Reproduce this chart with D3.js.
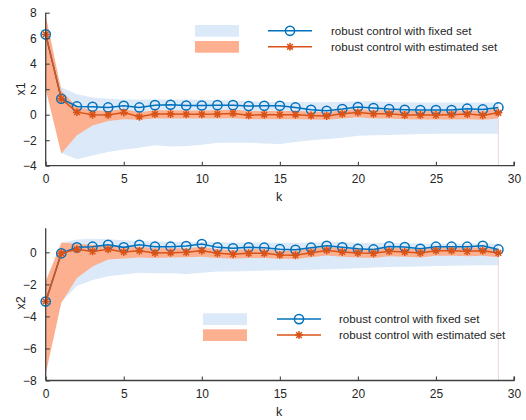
<!DOCTYPE html>
<html>
<head>
<meta charset="utf-8">
<script src="https://cdn.jsdelivr.net/npm/d3@7"></script>
<style>
	body { margin: 0; background: #fff; }
	text { font-family: "Liberation Sans", Arial, Helvetica, sans-serif; fill: #262626; }
</style>
</head>
<body>
<script>

// SVG Size
var width = 526,
	height = 420;

// time steps
var steps = d3.range(0, 30);
var xTicks = [0, 5, 10, 15, 20, 25, 30];
var x1Ticks = [-4, -2, 0, 2, 4, 6, 8];
var x2Ticks = [-8, -6, -4, -2, 0];
var legendLabels = ["robust control with fixed set", "robust control with estimated set"];

// x1 : trajectories
var fixedX1 = [6.3,1.25,0.65,0.62,0.57,0.7,0.57,0.75,0.78,0.72,0.72,0.75,0.75,0.68,0.7,0.7,0.57,0.39,0.31,0.44,0.6,0.52,0.44,0.39,0.36,0.36,0.36,0.47,0.41,0.57];
var estX1 = [6.3,1.25,0.2,0,-0.02,0.18,-0.16,0.05,0.05,0.03,0.03,0.05,0.1,-0.05,0,0,0,-0.07,-0.1,0.07,0.18,0.07,0.07,-0.03,-0.03,-0.03,0,0.05,-0.05,0.15];
// x1 : bands
var fixedX1Hi = [6.3,2.15,1.6,1.35,1.25,1.2,1.2,1.2,1.2,1.2,1.18,1.15,1.1,1.05,1.0,1.0,1.0,0.98,0.98,1.0,1.05,1.05,1.0,0.98,0.95,0.95,0.95,0.95,0.95,0.95];
var fixedX1Lo = [6.3,-3.0,-3.5,-3.2,-2.93,-2.72,-2.6,-2.4,-2.5,-2.45,-2.35,-2.2,-2.2,-2.2,-2.25,-2.3,-2.15,-2.0,-1.9,-1.8,-1.65,-1.62,-1.6,-1.55,-1.52,-1.5,-1.5,-1.5,-1.5,-1.49];
var estX1Hi = [7.8,1.9,0.6,0.35,0.3,0.45,0.2,0.35,0.35,0.33,0.33,0.35,0.4,0.3,0.3,0.3,0.3,0.25,0.22,0.35,0.45,0.35,0.35,0.3,0.3,0.3,0.3,0.35,0.3,0.5];
var estX1Lo = [2.0,-3.05,-1.62,-0.84,-0.5,-0.35,-0.4,-0.3,-0.3,-0.3,-0.3,-0.3,-0.28,-0.35,-0.35,-0.35,-0.35,-0.38,-0.4,-0.3,-0.2,-0.3,-0.3,-0.35,-0.38,-0.38,-0.38,-0.35,-0.4,-0.3];

// x2 : trajectories
var fixedX2 = [-3.07,-0.06,0.31,0.35,0.47,0.31,0.47,0.35,0.35,0.39,0.52,0.31,0.25,0.31,0.29,0.2,0.16,0.29,0.41,0.31,0.22,0.18,0.37,0.33,0.22,0.35,0.35,0.35,0.41,0.18];
var estX2 = [-3.07,-0.06,0.19,0.06,0.19,0.02,0.1,-0.04,-0.02,0,0.1,-0.06,-0.12,-0.06,-0.06,-0.16,-0.18,-0.02,0.12,0.02,-0.04,-0.06,0.06,0.02,-0.04,0.1,0.1,0.06,0.1,-0.04];
// x2 : bands
var fixedX2Hi = [-3.07,0.6,0.8,0.85,0.82,0.75,0.7,0.68,0.66,0.65,0.65,0.64,0.62,0.62,0.62,0.6,0.6,0.62,0.64,0.64,0.6,0.58,0.58,0.56,0.55,0.55,0.55,0.55,0.55,0.55];
var fixedX2Lo = [-3.07,-3.1,-2.1,-1.72,-1.5,-1.38,-1.27,-1.3,-1.3,-1.35,-1.28,-1.2,-1.2,-1.16,-1.14,-1.12,-1.1,-1.08,-1.05,-1.02,-1.0,-0.95,-0.92,-0.9,-0.88,-0.86,-0.84,-0.82,-0.8,-0.8];
var estX2Hi = [-1.8,0.6,0.55,0.45,0.45,0.3,0.35,0.25,0.25,0.25,0.35,0.2,0.15,0.2,0.2,0.1,0.1,0.25,0.35,0.25,0.2,0.2,0.3,0.25,0.2,0.3,0.3,0.3,0.3,0.2];
var estX2Lo = [-7.6,-3.15,-1.6,-0.88,-0.45,-0.38,-0.32,-0.35,-0.33,-0.3,-0.28,-0.35,-0.4,-0.35,-0.35,-0.4,-0.42,-0.3,-0.2,-0.28,-0.32,-0.35,-0.25,-0.28,-0.32,-0.22,-0.22,-0.25,-0.22,-0.3];

var blue = "#0072bd", orange = "#d95319";
var blueFill = "#dce9f9", orangeFill = "#fdb08f";
var axisColor = "#404040";

var svg = d3.select("body").append("svg")
	.attr("width", width)
	.attr("height", height);

var xScale = d3.scaleLinear()
	.domain([0, 30])
	.range([45.7, 514]);

// asterisk marker like matlab '*'
var star = function(s) {
	var d = s * 0.7071;
	return "M" + (-s) + ",0L" + s + ",0M0," + (-s) + "L0," + s +
		"M" + (-d) + "," + (-d) + "L" + d + "," + d +
		"M" + (-d) + "," + d + "L" + d + "," + (-d);
};

var drawPanel = function(cfg) {
	var yScale = d3.scaleLinear()
		.domain(cfg.domain)
		.range([cfg.bottom, cfg.top]);

	var g = svg.append("g");

	var area = function(hi, lo) {
		return d3.area()
			.x(function(d) { return xScale(d); })
			.y0(function(d) { return yScale(lo[d]); })
			.y1(function(d) { return yScale(hi[d]); })(steps);
	};

	g.append("path").attr("d", area(cfg.fixedHi, cfg.fixedLo)).attr("fill", blueFill);
	g.append("path").attr("d", area(cfg.estHi, cfg.estLo)).attr("fill", orangeFill);

	// thin edge at the last step
	var last = steps[steps.length - 1];
	g.append("line")
		.attr("x1", xScale(last)).attr("x2", xScale(last))
		.attr("y1", yScale(cfg.estLo[last])).attr("y2", cfg.bottom)
		.attr("stroke", "#ecd6d6").attr("stroke-width", 1);

	var line = function(vals) {
		return d3.line()
			.x(function(d) { return xScale(d); })
			.y(function(d) { return yScale(vals[d]); })(steps);
	};

	g.append("path").attr("d", line(cfg.fixed))
		.attr("fill", "none").attr("stroke", blue).attr("stroke-width", 1.5);
	g.selectAll("circle.m")
		.data(steps)
		.enter()
		.append("circle")
		.attr("class", "m")
		.attr("cx", function(d) { return xScale(d); })
		.attr("cy", function(d) { return yScale(cfg.fixed[d]); })
		.attr("r", 4.6)
		.attr("fill", "none").attr("stroke", blue).attr("stroke-width", 1.5);

	g.append("path").attr("d", line(cfg.est))
		.attr("fill", "none").attr("stroke", orange).attr("stroke-width", 1.5);
	g.selectAll("path.s")
		.data(steps)
		.enter()
		.append("path")
		.attr("class", "s")
		.attr("d", star(4))
		.attr("transform", function(d) { return "translate(" + xScale(d) + "," + yScale(cfg.est[d]) + ")"; })
		.attr("fill", "none").attr("stroke", orange).attr("stroke-width", 1.5);

	// axes, ticks inward
	var xAxis = d3.axisBottom(xScale).tickValues(xTicks).tickSize(-4).tickPadding(9);
	var yAxis = d3.axisLeft(yScale).tickValues(cfg.ticks).tickSize(-4).tickPadding(9);

	var gx = g.append("g")
		.attr("transform", "translate(0," + cfg.bottom + ")")
		.call(xAxis);
	var gy = g.append("g")
		.attr("transform", "translate(" + xScale(0) + ",0)")
		.call(yAxis);
	[gx, gy].forEach(function(a) {
		a.select(".domain").attr("stroke", axisColor).attr("stroke-width", 1.3);
		a.selectAll(".tick line").attr("stroke", axisColor).attr("stroke-width", 1.1);
		a.selectAll(".tick text").attr("fill", "#262626").style("font-size", "12px")
			.style("font-family", "'Liberation Sans', Arial, sans-serif");
	});
	gx.select(".domain").attr("d", "M" + xScale(0) + ",0H" + xScale(30) + "V-4");
	gy.select(".domain").attr("d", "M0," + cfg.top + "V" + cfg.bottom);

	g.append("text")
		.attr("x", 279).attr("y", cfg.bottom + 35)
		.attr("text-anchor", "middle")
		.style("font-size", "12.5px")
		.text("k");
	g.append("text")
		.attr("transform", "translate(25," + cfg.labelY + ") rotate(-90)")
		.attr("text-anchor", "middle")
		.style("font-size", "12.5px")
		.text(cfg.label);

	// legend
	var L = cfg.legend;
	g.append("rect").attr("x", L.px).attr("y", L.py).attr("width", 44).attr("height", 11.7).attr("fill", blueFill);
	g.append("rect").attr("x", L.px).attr("y", L.py + 16).attr("width", 44).attr("height", 11.7).attr("fill", orangeFill);

	var ly0 = L.py + 5.8, ly1 = L.py + 21.8;
	g.append("line").attr("x1", L.lx).attr("x2", L.lx + 44).attr("y1", ly0).attr("y2", ly0)
		.attr("stroke", blue).attr("stroke-width", 1.5);
	g.append("circle").attr("cx", L.lx + 22).attr("cy", ly0).attr("r", 4.6)
		.attr("fill", "none").attr("stroke", blue).attr("stroke-width", 1.5);
	g.append("line").attr("x1", L.lx).attr("x2", L.lx + 44).attr("y1", ly1).attr("y2", ly1)
		.attr("stroke", orange).attr("stroke-width", 1.5);
	g.append("path").attr("d", star(4))
		.attr("transform", "translate(" + (L.lx + 22) + "," + ly1 + ")")
		.attr("fill", "none").attr("stroke", orange).attr("stroke-width", 1.5);

	g.append("text").attr("x", L.tx).attr("y", ly0 + 4).style("font-size", "11.6px").text(legendLabels[0]);
	g.append("text").attr("x", L.tx).attr("y", ly1 + 4).style("font-size", "11.6px").text(legendLabels[1]);
};

drawPanel({
	domain: [-4, 8], top: 12.7, bottom: 165.7, ticks: x1Ticks,
	fixed: fixedX1, est: estX1,
	fixedHi: fixedX1Hi, fixedLo: fixedX1Lo, estHi: estX1Hi, estLo: estX1Lo,
	label: "x1", labelY: 89,
	legend: { px: 195, py: 25, lx: 268, tx: 331 }
});

drawPanel({
	domain: [-8, 1.5], top: 228.3, bottom: 380.5, ticks: x2Ticks,
	fixed: fixedX2, est: estX2,
	fixedHi: fixedX2Hi, fixedLo: fixedX2Lo, estHi: estX2Hi, estLo: estX2Lo,
	label: "x2", labelY: 303,
	legend: { px: 203, py: 313.3, lx: 277, tx: 339 }
});

</script>
</body>
</html>
